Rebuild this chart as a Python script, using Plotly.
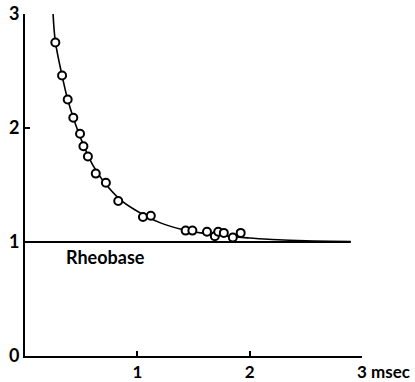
import plotly.graph_objects as go

# Measured points (pulse duration in msec, relative threshold strength)
duration = [0.27, 0.33, 0.38, 0.43, 0.49, 0.52, 0.56, 0.63, 0.72, 0.83,
            1.05, 1.12, 1.43, 1.49, 1.62, 1.69, 1.72, 1.77, 1.85, 1.92]
strength = [2.75, 2.46, 2.25, 2.09, 1.95, 1.84, 1.75, 1.60, 1.52, 1.36,
            1.22, 1.23, 1.10, 1.10, 1.09, 1.05, 1.09, 1.08, 1.04, 1.08]

# Fitted curve
curve_x = [0.25, 0.27, 0.33, 0.38, 0.43, 0.50, 0.60, 0.70, 0.85, 1.00,
           1.20, 1.40, 1.60, 1.80, 2.00, 2.20, 2.50, 2.90]
curve_y = [3.00, 2.76, 2.46, 2.25, 2.09, 1.90, 1.68, 1.53, 1.37, 1.27,
           1.17, 1.11, 1.075, 1.05, 1.035, 1.022, 1.01, 1.005]

# Rheobase line
rheo_x = [0, 2.9]
rheo_y = [1, 1]

x_ticks = [1, 2, 3]
x_ticklabels = ["1", "2", "3"]
y_ticks = [0, 1, 2, 3]
y_ticklabels = ["0", "1", "2", "3"]

FONT = "Lato"

fig = go.Figure()
fig.add_trace(go.Scatter(x=rheo_x, y=rheo_y, mode="lines",
                         line=dict(color="black", width=2), hoverinfo="skip"))
fig.add_trace(go.Scatter(x=curve_x, y=curve_y, mode="lines",
                         line=dict(color="black", width=1.6, shape="spline", smoothing=1.0),
                         hoverinfo="skip"))
fig.add_trace(go.Scatter(x=duration, y=strength, mode="markers",
                         marker=dict(symbol="circle", size=8, color="white",
                                     line=dict(color="black", width=2)),
                         hoverinfo="skip"))

fig.add_annotation(x=0.35, y=1, xref="x", yref="y", text="<b>Rheobase</b>",
                   showarrow=False, xanchor="left", yanchor="top", yshift=-2,
                   font=dict(family=FONT, size=18, color="black"))
fig.add_annotation(x=3, y=0, xref="x", yref="y", text="<b>msec</b>",
                   showarrow=False, xanchor="left", yanchor="middle", xshift=7, yshift=-15,
                   font=dict(family=FONT, size=17, color="black"))

fig.update_layout(
    width=415, height=382,
    margin=dict(l=25, r=53, t=14, b=26),
    paper_bgcolor="white", plot_bgcolor="white",
    showlegend=False,
    font=dict(family=FONT, size=17, color="black", weight="bold"),
)
fig.update_xaxes(range=[0, 3], showline=True, linecolor="black", linewidth=2,
                 showgrid=False, zeroline=False, automargin=False,
                 tickvals=x_ticks, ticktext=x_ticklabels,
                 ticks="inside", ticklen=5, tickwidth=2, tickcolor="black",
                 tickfont=dict(family=FONT, size=17, color="black", weight="bold"))
fig.update_yaxes(range=[0, 3], showline=True, linecolor="black", linewidth=2,
                 showgrid=False, zeroline=False, automargin=False,
                 tickvals=y_ticks, ticktext=y_ticklabels,
                 ticks="inside", ticklen=5, tickwidth=2, tickcolor="black",
                 tickfont=dict(family=FONT, size=18, color="black", weight="bold"))

fig.write_html("out.html", config={"displayModeBar": False},
               post_script="document.body.style.margin='0px';document.body.style.overflow='hidden';")
